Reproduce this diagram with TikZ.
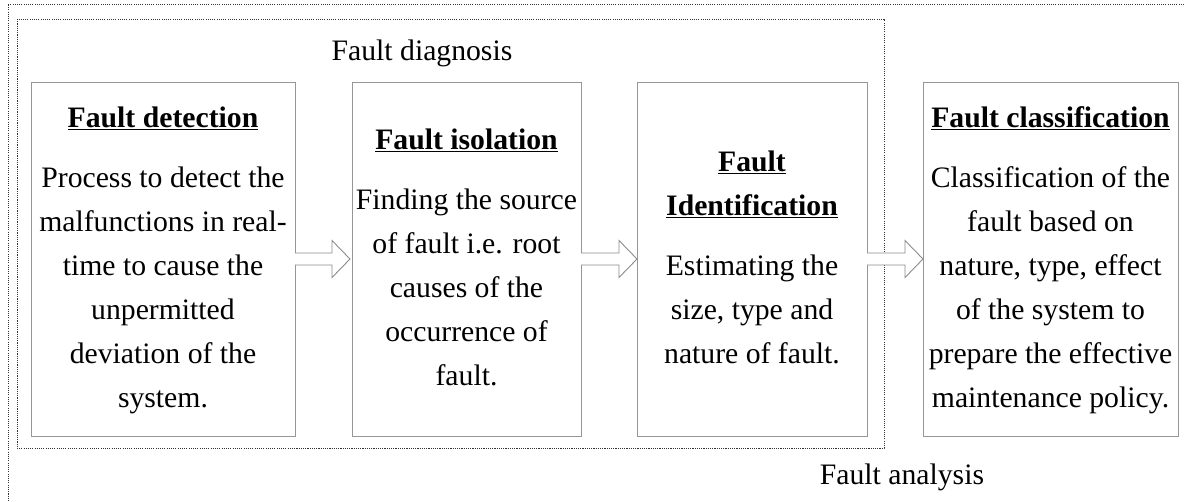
\documentclass[tikz,border=0pt]{standalone}
\usepackage{fontspec}
\setmainfont{Liberation Serif}
\usetikzlibrary{calc}
\begin{document}
\begin{tikzpicture}[x=1pt,y=-1pt,
  box/.style={draw={rgb,255:red,150;green,150;blue,150}, line width=1pt, rectangle,
    inner sep=0pt, outer sep=0pt, minimum height=354pt, align=center,
    font=\fontsize{29.7}{44}\selectfont},
  dotframe/.style={draw=black!80, line width=0.8pt, dash pattern=on 1.1pt off 1.1pt},
  blockarrow/.style={draw={rgb,255:red,140;green,140;blue,140}, line width=0.9pt, fill=white, line join=miter},
  label/.style={font=\fontsize{29.7}{44}\selectfont, inner sep=0pt}]
\useasboundingbox (0,0) rectangle (1184,501);
% frames
\draw[dotframe] (1184,4) -- (8,4) -- (8,501);
\draw[dotframe] (17,19) rectangle (884,448);
% boxes
\node[box, minimum width=264pt] (b1) at (163,259) {\underline{\textbf{Fault detection}}\strut\\[16pt]
  Process to detect the\\ malfunctions in real-\\ time to cause the\\ unpermitted\\ deviation of the\\ system.\strut};
\node[box, minimum width=229pt] (b2) at (466.5,259) {\underline{\textbf{Fault isolation}}\strut\\[16pt]
  Finding the source\\ of fault i.e. root\\ causes of the\\ occurrence of\\ fault.\strut};
\node[box, minimum width=230pt] (b3) at (752,259) {\underline{\textbf{Fault}}\strut\\ \underline{\textbf{Identification}}\\[16pt]
  Estimating the\\ size, type and\\ nature of fault.\strut};
\node[box, minimum width=255pt] (b4) at (1050.5,259) {\underline{\textbf{Fault classification}}\strut\\[16pt]
  Classification of the\\ fault based on\\ nature, type, effect\\ of the system to\\ prepare the effective\\ maintenance policy.\strut};
% labels
\node[label, anchor=base] (diag) at (422,60) {Fault diagnosis};
\node[label, anchor=base] (anal) at (902,484) {Fault analysis};
% block arrows
\coordinate (t1) at ($(b2.west)+(-2,0)$);
\coordinate (t2) at (b3.west);
\coordinate (t3) at (b4.west);
\draw[blockarrow] ($(b1.east)+(0,-6)$) -- ($(t1)+(-18,-6)$) -- ($(t1)+(-18,-18.5)$) -- (t1)
  -- ($(t1)+(-18,18.5)$) -- ($(t1)+(-18,6)$) -- ($(b1.east)+(0,6)$);
\draw[blockarrow] ($(b2.east)+(0,-6)$) -- ($(t2)+(-18,-6)$) -- ($(t2)+(-18,-18.5)$) -- (t2)
  -- ($(t2)+(-18,18.5)$) -- ($(t2)+(-18,6)$) -- ($(b2.east)+(0,6)$);
\draw[blockarrow] ($(b3.east)+(0,-6)$) -- ($(t3)+(-18,-6)$) -- ($(t3)+(-18,-18.5)$) -- (t3)
  -- ($(t3)+(-18,18.5)$) -- ($(t3)+(-18,6)$) -- ($(b3.east)+(0,6)$);
\end{tikzpicture}
\end{document}
